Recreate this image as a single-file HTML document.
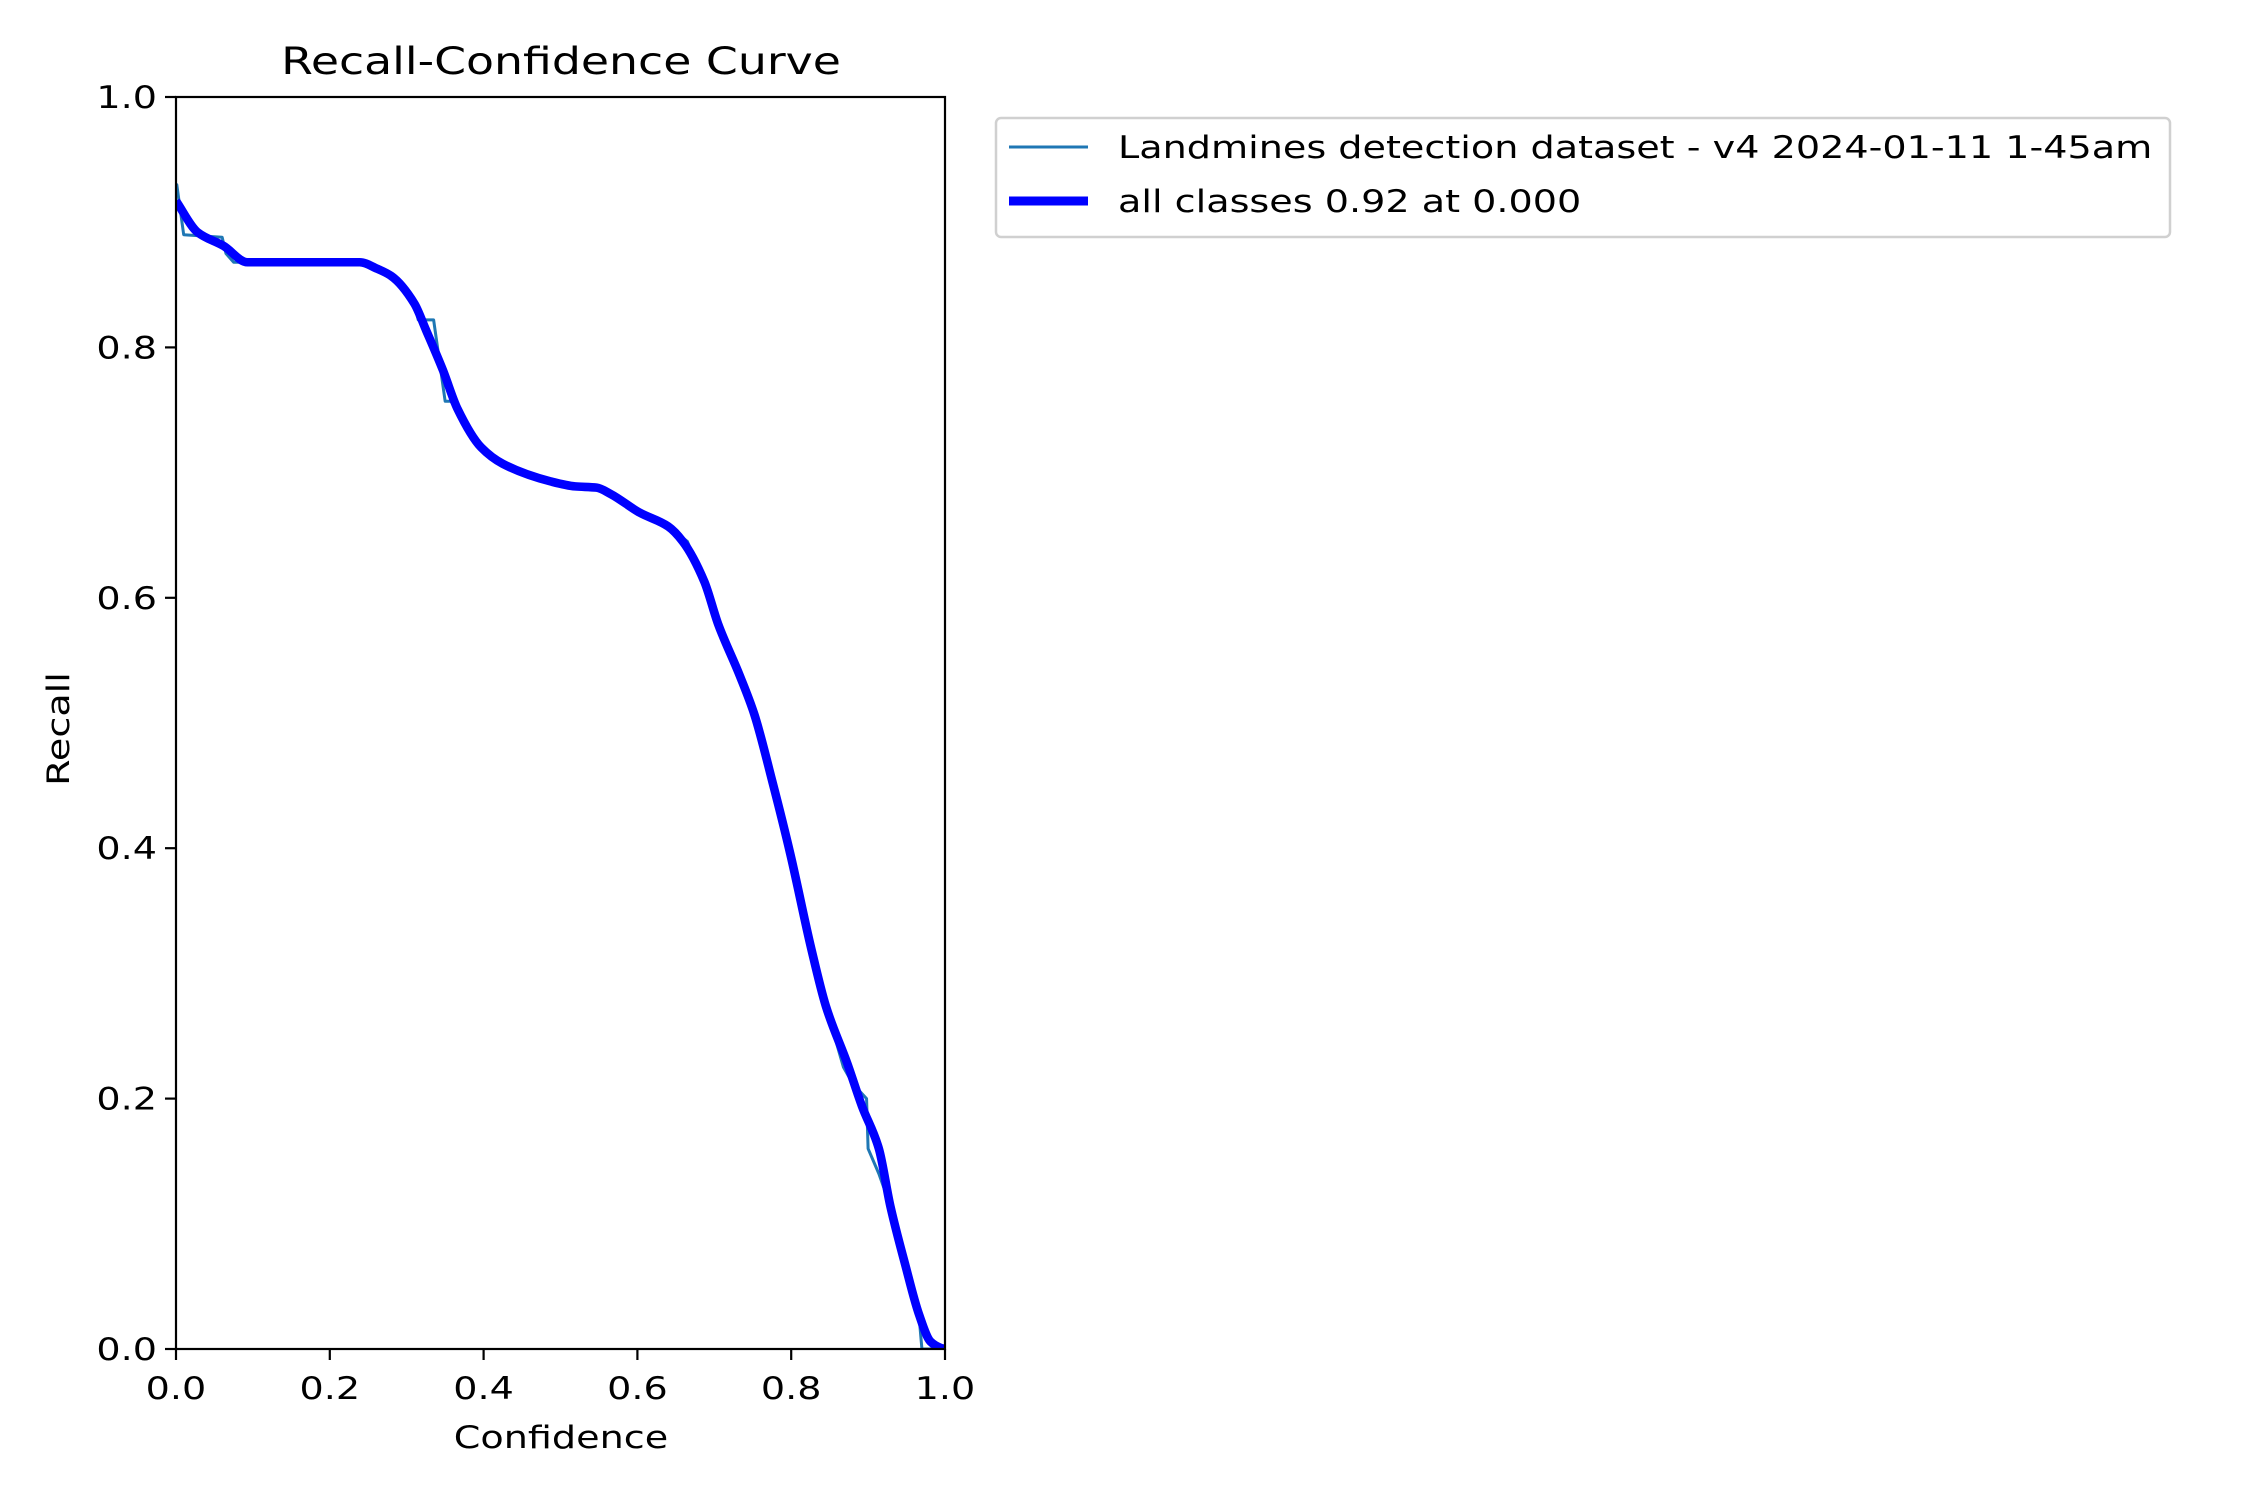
<!DOCTYPE html>
<html><head><meta charset="utf-8"><style>
html,body{margin:0;padding:0;background:#fff;}
svg text{font-family:"DejaVu Sans","Liberation Sans",sans-serif;fill:#000;}
</style></head><body>
<svg id="chart" width="2250" height="1500" viewBox="0 0 2250 1500" xmlns="http://www.w3.org/2000/svg">
<rect width="2250" height="1500" fill="#fff"/>
<text class="st" x="561" y="74" font-size="37.5" text-anchor="middle">Recall-Confidence Curve</text>
<g id="plot"></g>
<text class="st" x="561" y="1448" font-size="31.25" text-anchor="middle">Confidence</text>
<text class="st" transform="translate(69,729) rotate(-90)" font-size="31.25" text-anchor="middle">Recall</text>
<g>
<rect x="996" y="118" width="1174" height="119" rx="5" fill="#fff" stroke="#d0d0d0" stroke-width="2.5"/>
<line x1="1009" y1="147" x2="1088" y2="147" stroke="#1f77b4" stroke-width="3"/>
<text class="st" x="1118" y="158" font-size="31.25">Landmines detection dataset - v4 2024-01-11 1-45am</text>
<line x1="1009" y1="201" x2="1088" y2="201" stroke="#0000ff" stroke-width="9"/>
<text class="st" x="1118" y="212" font-size="31.25">all classes 0.92 at 0.000</text>
</g>
</svg>
<script>
const xTicks = [0, 0.2, 0.4, 0.6, 0.8, 1.0];
const yTicks = [0, 0.2, 0.4, 0.6, 0.8, 1.0];
const tickLabels = ["0.0", "0.2", "0.4", "0.6", "0.8", "1.0"];
const allX = [0,0.028,0.062,0.093,0.239,0.261,0.28,0.31,0.325,0.347,0.366,0.397,0.425,0.487,0.519,0.547,0.565,0.603,0.64,0.659,0.687,0.705,0.733,0.752,0.776,0.799,0.826,0.845,0.873,0.892,0.914,0.929,0.948,0.966,0.981,0.994,1];
const allY = [0.917,0.892,0.881,0.868,0.868,0.863,0.857,0.835,0.814,0.782,0.751,0.72,0.707,0.693,0.689,0.688,0.683,0.668,0.657,0.645,0.613,0.579,0.538,0.507,0.452,0.395,0.32,0.274,0.228,0.194,0.16,0.114,0.068,0.028,0.006,0.001,0];
const dsX = [0,0.001,0.01,0.06,0.065,0.075,0.093,0.239,0.261,0.28,0.31,0.315,0.325,0.335,0.35,0.357,0.366,0.397,0.425,0.487,0.519,0.547,0.565,0.603,0.64,0.665,0.687,0.705,0.733,0.752,0.776,0.799,0.826,0.845,0.868,0.88,0.898,0.9,0.914,0.929,0.932,0.948,0.966,0.97,1];
const dsY = [0.93,0.93,0.89,0.888,0.875,0.868,0.868,0.868,0.863,0.857,0.835,0.822,0.822,0.822,0.757,0.757,0.751,0.72,0.707,0.693,0.689,0.688,0.683,0.668,0.657,0.645,0.613,0.579,0.538,0.507,0.452,0.395,0.32,0.274,0.225,0.212,0.2,0.16,0.14,0.114,0.11,0.068,0.028,0,0];

const L=176,R=945,T=97,B=1349;
const sx=v=>L+v*(R-L);
const sy=v=>B-v*(B-T);
const NS="http://www.w3.org/2000/svg";
const plot=document.getElementById('plot');
function mk(tag,attrs,parent){const e=document.createElementNS(NS,tag);for(const k in attrs)e.setAttribute(k,attrs[k]);(parent||plot).appendChild(e);return e;}

const clip=mk('clipPath',{id:'clip'});
mk('rect',{x:L,y:T,width:R-L,height:B-T},clip);

function straightPath(xs,ys){
  return xs.map((x,i)=>(i?'L':'M')+sx(x).toFixed(2)+' '+sy(ys[i]).toFixed(2)).join(' ');
}
// monotone cubic (Fritsch-Carlson) in pixel space
function smoothPath(xs,ys){
  const X=xs.map(sx),Y=ys.map(sy),n=X.length;
  const d=[],m=new Array(n);
  for(let i=0;i<n-1;i++)d.push((Y[i+1]-Y[i])/(X[i+1]-X[i]));
  m[0]=d[0];m[n-1]=d[n-2];
  for(let i=1;i<n-1;i++){
    if(d[i-1]*d[i]<=0)m[i]=0;
    else{const h0=X[i]-X[i-1],h1=X[i+1]-X[i];const w1=2*h1+h0,w2=h1+2*h0;m[i]=(w1+w2)/(w1/d[i-1]+w2/d[i]);}
  }
  let p='M'+X[0].toFixed(2)+' '+Y[0].toFixed(2);
  for(let i=0;i<n-1;i++){
    const h=X[i+1]-X[i];
    p+=' C'+(X[i]+h/3).toFixed(2)+' '+(Y[i]+m[i]*h/3).toFixed(2)+' '+(X[i+1]-h/3).toFixed(2)+' '+(Y[i+1]-m[i+1]*h/3).toFixed(2)+' '+X[i+1].toFixed(2)+' '+Y[i+1].toFixed(2);
  }
  return p;
}
function line(d,color,w,name){
  const p=mk('path',{d:d,fill:'none',stroke:color,'stroke-width':w,'stroke-linejoin':'round','stroke-linecap':'butt','clip-path':'url(#clip)'});
  
  
}
line(straightPath(dsX,dsY),'#1f77b4',3,'dataset-line');
line(smoothPath(allX,allY),'#0000ff',8.6,'all-classes-line');

const frame=mk('rect',{x:L,y:T,width:R-L,height:B-T,fill:'none',stroke:'#000','stroke-width':2.2});



xTicks.forEach((v,i)=>{
  const t=mk('line',{x1:sx(v),y1:B,x2:sx(v),y2:B+11,stroke:'#000','stroke-width':2.2});
  
  
  const lb=mk('text',{x:sx(v),y:B+50,'font-size':31.25,'text-anchor':'middle','class':'st'});
  lb.textContent=tickLabels[i];
  
  
});
yTicks.forEach((v,i)=>{
  const t=mk('line',{x1:L-11,y1:sy(v),x2:L,y2:sy(v),stroke:'#000','stroke-width':2.2});
  
  
  const lb=mk('text',{x:L-19,y:sy(v)+11,'font-size':31.25,'text-anchor':'end','class':'st'});
  lb.textContent=tickLabels[i];
  
  
});
document.querySelectorAll('text.st').forEach(t=>{
  const w=t.getComputedTextLength();
  if(w>0){t.setAttribute('textLength',(w*1.22).toFixed(1));t.setAttribute('lengthAdjust','spacingAndGlyphs');}
});
</script>
</body></html>
